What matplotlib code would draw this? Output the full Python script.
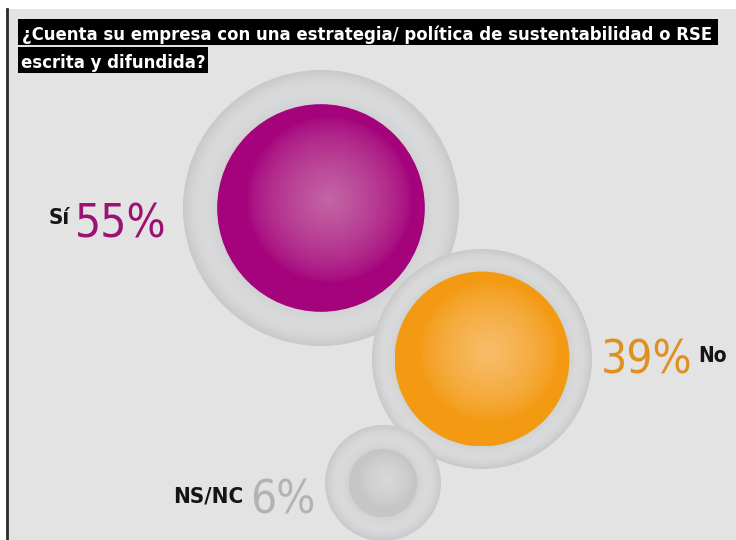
import numpy as np
import matplotlib
matplotlib.use("Agg")
import matplotlib.pyplot as plt
from matplotlib.patches import Circle, Rectangle

# Survey answers
labels = ["Sí", "No", "NS/NC"]
values = [55, 39, 6]

title_lines = ["¿Cuenta su empresa con una estrategia/ política de sustentabilidad o RSE",
               "escrita y difundida?"]

# Layout (pixels, origin top-left)
W, H = 736, 540
centers = [(321, 208), (482, 359), (383, 483)]
ring_r = [138, 110, 58]
K = 14.0  # inner radius = K * sqrt(value)

base_cols = ["#a5037c", "#f39a12", "#c6c6c6"]
light_cols = ["#c466a4", "#f8bd6c", "#d9d9d9"]
text_cols = ["#9c1272", "#e0901f", "#b3b3b3"]

FONT = dict(family="DejaVu Sans", fontstretch="condensed")

fig = plt.figure(figsize=(W / 100, H / 100), dpi=100, facecolor="white")
ax = fig.add_axes([0, 0, 1, 1])
ax.set_xlim(0, W)
ax.set_ylim(H, 0)
ax.axis("off")

# Panel background and left rule
ax.add_patch(Rectangle((7, 9), W - 7, H - 9, fc="#e3e3e3", ec="none", zorder=0))
ax.plot([7, 7], [9, H], color="#2a2a2a", lw=2, zorder=1)


def to_rgb(c):
    return np.array(matplotlib.colors.to_rgb(c))


def ring_img(cx, cy, r_out, r_in, n=300):
    xs = np.linspace(cx - r_out, cx + r_out, n)
    ys = np.linspace(cy - r_out, cy + r_out, n)
    X, Y = np.meshgrid(xs, ys)
    d = np.hypot(X - cx, Y - cy)
    t = np.clip((d - r_in) / (r_out - r_in), 0, 1)
    g = 0.82 + 0.035 * np.sin(np.pi * t) - 0.035 * t ** 3
    img = np.dstack([g, g * 1.003, g * 1.008])
    return np.clip(img, 0, 1)


def sphere_img(cx, cy, r, base, light, n=300):
    xs = np.linspace(cx - r, cx + r, n)
    ys = np.linspace(cy - r, cy + r, n)
    X, Y = np.meshgrid(xs, ys)
    hx, hy = cx + 0.08 * r, cy - 0.08 * r
    d = np.hypot(X - hx, Y - hy) / (0.8 * r)
    w = np.clip(1 - d, 0, 1) ** 0.7
    b, l = to_rgb(base), to_rgb(light)
    return b[None, None, :] * (1 - w[..., None]) + l[None, None, :] * w[..., None]


for (cx, cy), ro, v, bc, lc in zip(centers, ring_r, values, base_cols, light_cols):
    ri = K * np.sqrt(v)
    im = ax.imshow(ring_img(cx, cy, ro, ri), extent=(cx - ro, cx + ro, cy + ro, cy - ro),
                   zorder=2, interpolation="bilinear")
    im.set_clip_path(Circle((cx, cy), ro, transform=ax.transData))
    im2 = ax.imshow(sphere_img(cx, cy, ri, bc, lc), extent=(cx - ri, cx + ri, cy + ri, cy - ri),
                    zorder=3, interpolation="bilinear")
    im2.set_clip_path(Circle((cx, cy), ri, transform=ax.transData))

ax.set_xlim(0, W)
ax.set_ylim(H, 0)

renderer = fig.canvas.get_renderer()


def px_extent(t):
    bb = t.get_window_extent(renderer)
    return bb.x0, bb.x1


def fit_width(t, width):
    x0, x1 = px_extent(t)
    t.set_fontsize(t.get_fontsize() * width / (x1 - x0))


# Title on black bands
ax.add_patch(Rectangle((18, 19), 700, 26, fc="black", ec="none", zorder=4))
ax.add_patch(Rectangle((18, 47), 190, 26, fc="black", ec="none", zorder=4))
t1 = ax.text(22, 40, title_lines[0], color="white", fontsize=14, fontweight="bold",
             va="baseline", ha="left", zorder=5, **FONT)
fit_width(t1, 692)
ax.text(21, 68, title_lines[1], color="white", fontsize=t1.get_fontsize(), fontweight="bold",
        va="baseline", ha="left", zorder=5, **FONT)

# Percent figures and answer labels
pct = [f"{v}%" for v in values]
PCT_SIZE = 33
LAB_SIZE = 16

p0 = ax.text(167, 237, pct[0], color=text_cols[0], fontsize=PCT_SIZE,
             ha="right", va="baseline", zorder=5, **FONT)
x0, _ = px_extent(p0)
ax.text(x0 - 6, 224, labels[0], color="#151515", fontsize=LAB_SIZE, fontweight="bold",
        ha="right", va="baseline", zorder=5, **FONT)

p1 = ax.text(601, 373, pct[1], color=text_cols[1], fontsize=PCT_SIZE,
             ha="left", va="baseline", zorder=5, **FONT)
_, x1 = px_extent(p1)
ax.text(x1 + 6, 362, labels[1], color="#151515", fontsize=LAB_SIZE - 1, fontweight="bold",
        ha="left", va="baseline", zorder=5, **FONT)

p2 = ax.text(250, 514, pct[2], color=text_cols[2], fontsize=PCT_SIZE,
             ha="left", va="baseline", zorder=5, **FONT)
ax.text(243, 503, labels[2], color="#151515", fontsize=LAB_SIZE, fontweight="bold",
        ha="right", va="baseline", zorder=5, **FONT)

fig.savefig("out.png", dpi=100, facecolor="white")
